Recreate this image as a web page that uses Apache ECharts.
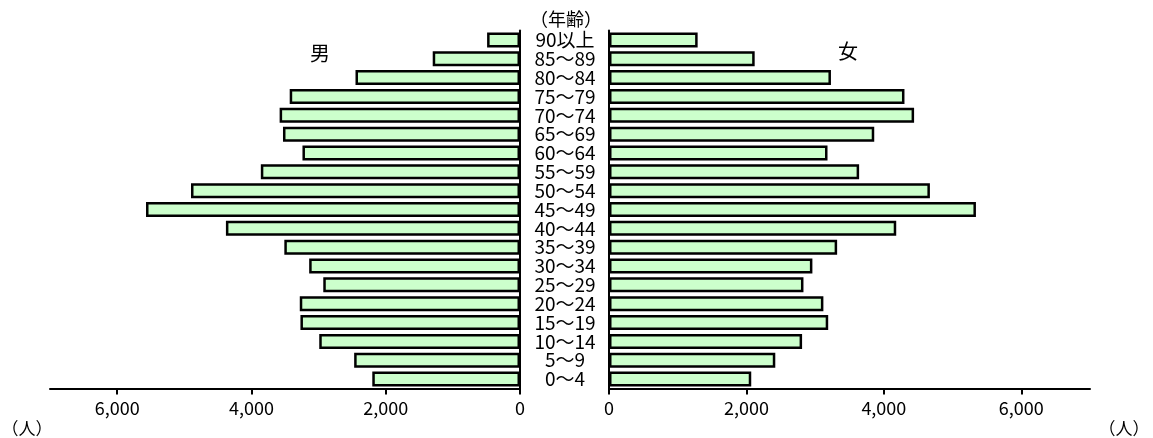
<!DOCTYPE html>
<html>
<head>
<meta charset="utf-8">
<script src="https://cdn.jsdelivr.net/npm/echarts@6/dist/echarts.min.js"></script>
<style>html,body{margin:0;padding:0;background:#fff}#c{width:1153px;height:438px}</style>
</head>
<body>
<div id="c"></div>
<script>
var ageGroups = ['0～4','5～9','10～14','15～19','20～24','25～29','30～34','35～39','40～44','45～49','50～54','55～59','60～64','65～69','70～74','75～79','80～84','85～89','90以上'];
var male   = [2200,2470,2990,3270,3280,2930,3140,3510,4380,5570,4900,3860,3240,3530,3580,3430,2450,1300,490];
var female = [2070,2420,2810,3190,3120,2830,2960,3320,4180,5340,4670,3640,3180,3860,4440,4300,3230,2120,1290];
var tickValues = [0,2000,4000,6000];

var font = '"Noto Sans CJK JP", "Noto Sans", sans-serif';
var chart = echarts.init(document.getElementById('c'), null, {renderer:'canvas'});
var barStyle = {color:'#ccffcc', borderColor:'#000', borderWidth:2.5};
function xAx(idx, inverse){
  return {
    type:'value', gridIndex:idx, min:0, max:7000, interval:2000, inverse:inverse,
    axisLine:{show:true, lineStyle:{color:'#000', width:2}},
    axisTick:{show:true, length:6, lineStyle:{color:'#000', width:2}, customValues:tickValues},
    axisLabel:{color:'#000', fontSize:18, fontFamily:font, margin:11, customValues:tickValues,
      formatter:function(v){return v.toLocaleString('en-US');}},
    splitLine:{show:false}
  };
}
chart.setOption({
  animation:false,
  grid:[
    {left:50, width:470, top:30.5, height:358},
    {left:609, width:481, top:30.5, height:358}
  ],
  xAxis:[xAx(0,true), xAx(1,false)],
  yAxis:[
    {type:'category', gridIndex:0, data:ageGroups, position:'right',
      axisLine:{show:true, lineStyle:{color:'#000', width:2}}, axisTick:{show:false},
      axisLabel:{color:'#000', fontSize:19, fontFamily:font, align:'center', margin:45, interval:0, lineHeight:19}},
    {type:'category', gridIndex:1, data:ageGroups, position:'left',
      axisLine:{show:true, lineStyle:{color:'#000', width:2}}, axisTick:{show:false},
      axisLabel:{show:false}}
  ],
  series:[
    {name:'男', type:'bar', xAxisIndex:0, yAxisIndex:0, data:male, barWidth:15, itemStyle:barStyle},
    {name:'女', type:'bar', xAxisIndex:1, yAxisIndex:1, data:female, barWidth:15, itemStyle:barStyle}
  ],
  graphic:[
    {type:'text', x:566, y:19, style:{text:'（年齢）', font:'18px '+font, fill:'#000', align:'center', verticalAlign:'middle'}},
    {type:'text', x:320, y:53, style:{text:'男', font:'20px '+font, fill:'#000', align:'center', verticalAlign:'middle'}},
    {type:'text', x:848, y:51, style:{text:'女', font:'20px '+font, fill:'#000', align:'center', verticalAlign:'middle'}},
    {type:'text', x:27, y:429, style:{text:'（人）', font:'17px '+font, fill:'#000', align:'center', verticalAlign:'middle'}},
    {type:'text', x:1124, y:429, style:{text:'（人）', font:'17px '+font, fill:'#000', align:'center', verticalAlign:'middle'}}
  ]
});
</script>
</body>
</html>
